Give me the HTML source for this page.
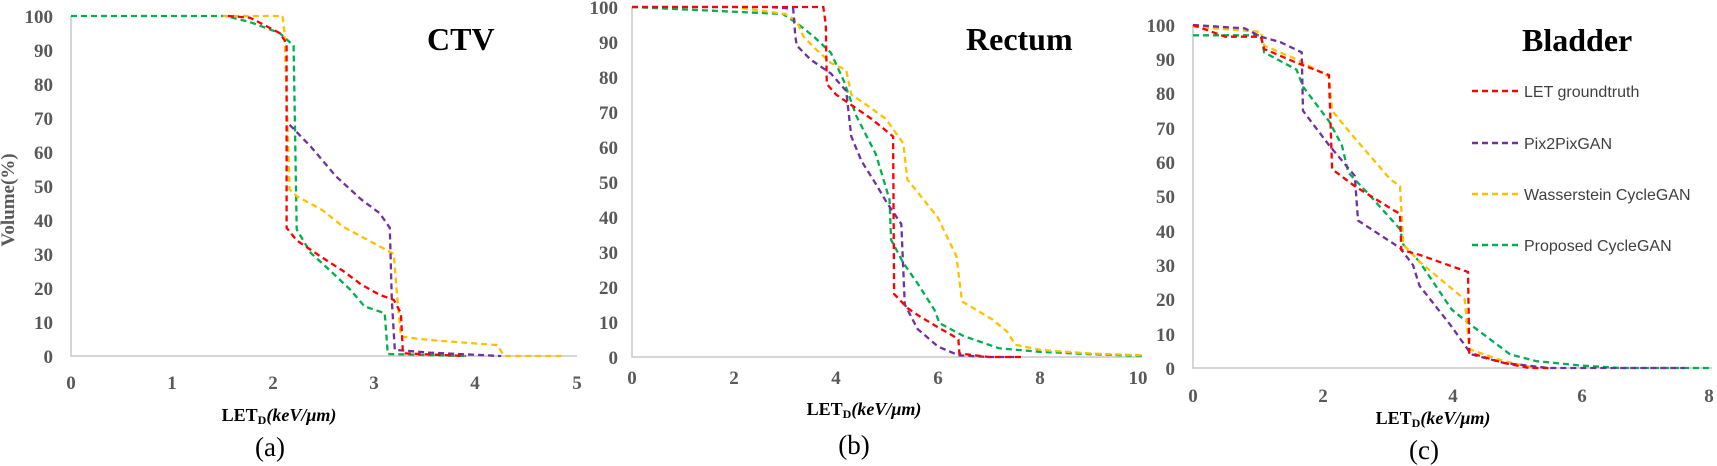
<!DOCTYPE html>
<html><head><meta charset="utf-8"><style>
html,body{margin:0;padding:0;background:#fff;}
svg{display:block;}
.t{font-family:"Liberation Serif",serif;font-weight:bold;fill:#595959;font-size:19px;}
.ti{font-family:"Liberation Serif",serif;font-weight:bold;fill:#000;font-size:32px;}
.cap{font-family:"Liberation Serif",serif;fill:#000;font-size:27px;}
.xl{font-family:"Liberation Serif",serif;font-weight:bold;fill:#000;font-size:18px;}
.lg{font-family:"Liberation Sans",sans-serif;fill:#404040;font-size:16px;}
</style></head><body>
<svg id="s" width="1717" height="466" xmlns="http://www.w3.org/2000/svg">
<g stroke="#c8c8c8" stroke-width="1.5" fill="none">
<path d="M71 16V356H577"/><path d="M632 7V357H1142"/><path d="M1193 25V368H1712"/>
</g>
<g class="t" text-anchor="end">
<text x="53" y="23">100</text><text x="53" y="57">90</text><text x="53" y="91">80</text><text x="53" y="125">70</text><text x="53" y="159">60</text><text x="53" y="193">50</text><text x="53" y="227">40</text><text x="53" y="261">30</text><text x="53" y="295">20</text><text x="53" y="329">10</text><text x="53" y="363">0</text>
<text x="618" y="14">100</text><text x="618" y="49">90</text><text x="618" y="84">80</text><text x="618" y="119">70</text><text x="618" y="154">60</text><text x="618" y="189">50</text><text x="618" y="224">40</text><text x="618" y="259">30</text><text x="618" y="294">20</text><text x="618" y="329">10</text><text x="618" y="364">0</text>
<text x="1175" y="32">100</text><text x="1175" y="66">90</text><text x="1175" y="100">80</text><text x="1175" y="135">70</text><text x="1175" y="169">60</text><text x="1175" y="203">50</text><text x="1175" y="238">40</text><text x="1175" y="272">30</text><text x="1175" y="306">20</text><text x="1175" y="341">10</text><text x="1175" y="375">0</text>
</g>
<g class="t" text-anchor="middle">
<text x="71" y="389">0</text><text x="172" y="389">1</text><text x="273" y="389">2</text><text x="374" y="389">3</text><text x="475" y="389">4</text><text x="577" y="389">5</text>
<text x="632" y="384">0</text><text x="734" y="384">2</text><text x="836" y="384">4</text><text x="938" y="384">6</text><text x="1040" y="384">8</text><text x="1138" y="384">10</text>
<text x="1193" y="402">0</text><text x="1323" y="402">2</text><text x="1453" y="402">4</text><text x="1582" y="402">6</text><text x="1709" y="402">8</text>
</g>
<text class="t" font-size="16" transform="translate(14,200) rotate(-90)" text-anchor="middle">Volume(%)</text>
<text class="ti" x="427" y="50">CTV</text>
<text class="ti" x="966" y="50">Rectum</text>
<text class="ti" x="1522" y="51">Bladder</text>
<text class="xl" x="279" y="421" text-anchor="middle">LET<tspan font-size="12" dy="3">D</tspan><tspan dy="-3" font-style="italic">(keV/μm)</tspan></text>
<text class="xl" x="864" y="415" text-anchor="middle">LET<tspan font-size="12" dy="3">D</tspan><tspan dy="-3" font-style="italic">(keV/μm)</tspan></text>
<text class="xl" x="1433" y="424" text-anchor="middle">LET<tspan font-size="12" dy="3">D</tspan><tspan dy="-3" font-style="italic">(keV/μm)</tspan></text>
<text class="cap" x="270" y="456" text-anchor="middle">(a)</text>
<text class="cap" x="854" y="454" text-anchor="middle">(b)</text>
<text class="cap" x="1424" y="459" text-anchor="middle">(c)</text>
<g stroke-width="2.5" stroke-dasharray="6 4">
<line x1="1472" y1="91" x2="1519" y2="91" stroke="#ff0000"/>
<line x1="1472" y1="143" x2="1519" y2="143" stroke="#7030a0"/>
<line x1="1472" y1="194" x2="1519" y2="194" stroke="#ffc000"/>
<line x1="1472" y1="245" x2="1519" y2="245" stroke="#00b050"/>
</g>
<g class="lg"><text x="1524" y="97">LET groundtruth</text><text x="1524" y="149">Pix2PixGAN</text><text x="1524" y="200">Wasserstein CycleGAN</text><text x="1524" y="251">Proposed CycleGAN</text></g>
<g id="curves" fill="none" stroke-width="2.3" stroke-dasharray="6 4"></g>
</svg>
<script>
var C={r:"#ff0000",p:"#7030a0",o:"#ffc000",g:"#00b050"};
var P=[
{x0:71,u:101.2,y0:356,v:3.4,s:{
g:[[0,100],[1.53,100],[1.77,98.2],[2.06,95],[2.2,91.3],[2.23,37.2],[2.37,30.3],[2.55,25.4],[2.76,19.5],[2.9,14.6],[3.1,12.6],[3.13,0.6],[3.9,0]],
r:[[1.55,100],[1.77,99.5],[2.06,95],[2.13,92],[2.13,37.7],[2.23,34],[2.48,29],[2.69,25],[2.87,21],[3.05,18],[3.19,16.5],[3.26,12.6],[3.28,0.8],[3.9,0]],
o:[[1.5,100],[2.09,100],[2.11,95],[2.16,49],[2.23,47],[2.48,43],[2.69,38],[2.94,34],[3.19,30],[3.22,18.5],[3.26,5.7],[3.54,4.7],[4.21,3.2],[4.28,0],[4.85,0]],
p:[[2.16,68],[2.37,61.6],[2.62,52.8],[2.87,46],[3.05,42],[3.15,37.7],[3.17,16.5],[3.2,1.8],[3.54,1],[4.25,0]]}},
{x0:632,u:51,y0:357,v:3.5,s:{
o:[[0,100],[2.0,100],[3.0,98],[3.23,96],[3.36,91.6],[3.6,88],[3.9,84],[4.2,82],[4.3,75],[4.6,72],[4.98,68],[5.32,61],[5.4,50.7],[5.99,40],[6.36,28.8],[6.47,15.9],[7.07,10.7],[7.35,7.3],[7.52,3.5],[8.02,2],[9,1],[10,0.5]],
g:[[0,100],[2.96,98],[3.23,95.4],[3.56,91.6],[3.9,86.9],[4.15,79],[4.4,68.8],[4.78,58],[5.05,45],[5.08,33.5],[5.32,26.9],[5.6,21],[5.93,13.5],[6.03,9.7],[6.5,6],[7.2,2.5],[8,1.5],[9,0.8],[10,0.3]],
r:[[0,100],[3.75,100],[3.8,95],[3.82,78],[4.0,75],[4.4,71],[4.7,68],[5.12,63],[5.14,18],[5.4,14],[5.6,12],[6.0,8.5],[6.3,6],[6.4,5],[6.42,1],[7,0],[7.7,0]],
p:[[0,100],[2.7,100],[3.16,99.5],[3.2,92],[3.23,89],[3.5,85],[3.9,81],[4.2,76],[4.3,63],[4.5,56],[4.8,49],[5.0,44],[5.28,38],[5.35,15],[5.6,8],[6.0,3],[6.4,0.5],[7,0],[7.6,0]]}},
{x0:1193,u:64.7,y0:368,v:3.43,s:{
r:[[0,100],[0.5,96.6],[1.05,96.6],[1.1,93],[1.6,89],[2.1,85.4],[2.15,58],[2.5,53],[3.1,46],[3.2,45],[3.22,34.5],[3.5,33],[4.25,28],[4.27,4.5],[4.8,1.5],[5.2,0],[5.5,0]],
p:[[0,100],[0.8,99],[1.05,96.6],[1.35,95],[1.68,92],[1.7,75],[2.1,65],[2.5,56],[2.55,43],[3.2,35],[3.4,30],[3.5,24],[4.0,12],[4.3,4],[4.8,1.5],[5.5,0],[7.6,0]],
o:[[0,99.5],[1.05,98],[1.1,94],[1.6,90],[2.1,85],[2.15,75],[2.5,67],[3.05,55],[3.2,53],[3.25,36],[3.5,31],[4.2,20],[4.27,5.5],[4.8,2],[5.3,0]],
g:[[0,97],[1.05,97],[1.1,92],[1.6,87],[1.7,82],[2.1,72],[2.3,65],[2.4,57],[2.7,51],[3.2,40.5],[3.25,36],[3.5,31],[4.0,17],[4.3,12.5],[4.9,4],[5.3,2],[6.0,0.7],[6.6,0],[8,0]]}}];
var g=document.getElementById("curves"),h="";
P.forEach(function(pn){["g","o","p","r"].forEach(function(k){var a=pn.s[k];if(!a)return;
var d=a.map(function(q,i){return (i?"L":"M")+(pn.x0+q[0]*pn.u).toFixed(1)+" "+(pn.y0-q[1]*pn.v).toFixed(1)}).join("");
h+='<path d="'+d+'" stroke="'+C[k]+'"/>';});});
g.innerHTML=h;
</script>
</body></html>
